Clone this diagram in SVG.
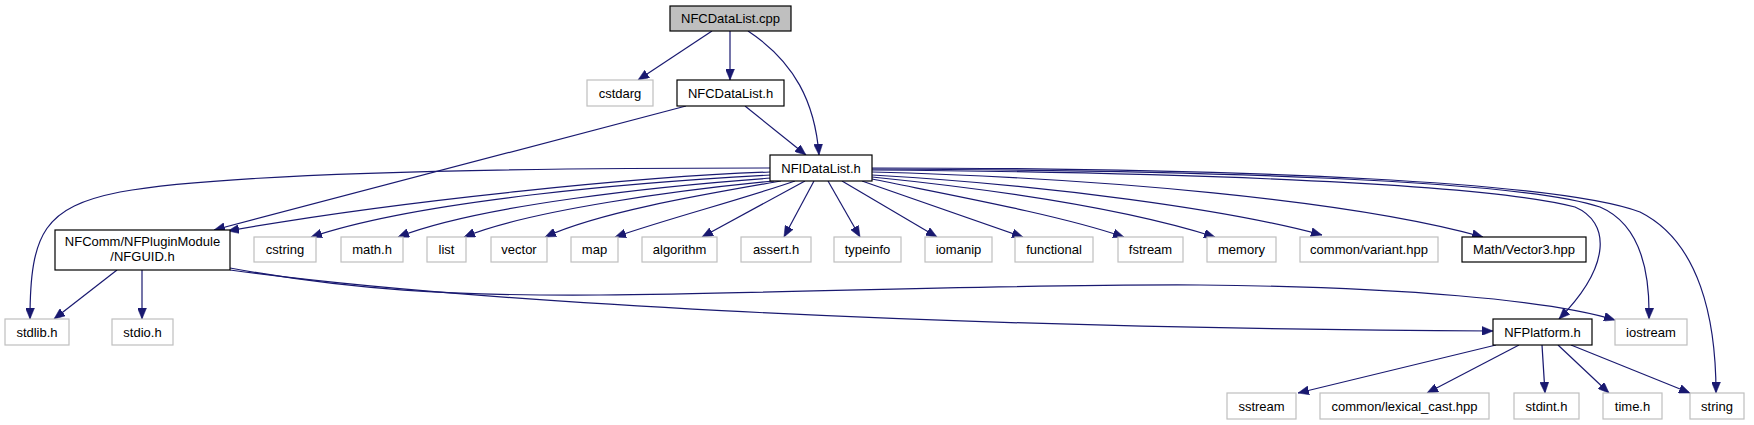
<svg xmlns="http://www.w3.org/2000/svg" width="1754" height="425" viewBox="0 0 1754 425">
<defs>
<style>
.g{fill:#ffffff;stroke:#bfbfbf;stroke-width:1.2}
.b{fill:#ffffff;stroke:#000000;stroke-width:1.2}
.r{fill:#bfbfbf;stroke:#000000;stroke-width:1.2}
text{font-family:"Liberation Sans",Arial,sans-serif;font-size:13px;fill:#000000;text-anchor:middle}
.e path{fill:none;stroke:#191970;stroke-width:1.2;marker-end:url(#arr)}
</style>
<marker id="arr" viewBox="0 0 11 9" refX="11" refY="4.5" markerWidth="11" markerHeight="9" markerUnits="userSpaceOnUse" orient="auto">
<path d="M0,0 L11,4.5 L0,9 z" fill="#191970" stroke="#191970" stroke-width="0.5"/>
</marker>
</defs>
<rect x="0" y="0" width="1754" height="425" fill="#ffffff"/>
<g class="e" id="edges">
<path d="M712,31 L638,80"/>
<path d="M730,31 L730,80"/>
<path d="M748,31 C795,62 815,103 819,155"/>
<path d="M745,106 L806,155"/>
<path d="M686,106 L214,230"/>
<path d="M770,168 C540,168 230,172 120,192 C45,207 30,232 30,319"/>
<path d="M770,172 C650,176 400,200 228,231"/>
<path d="M771,175 C640,182 420,200 311,237"/>
<path d="M772,178 C660,186 480,205 398,237"/>
<path d="M774,181 C680,190 530,210 464,237"/>
<path d="M781,181 C700,195 600,212 545,237"/>
<path d="M795,181 C740,200 670,218 615,237"/>
<path d="M805,181 L702,237"/>
<path d="M814,181 L784,237"/>
<path d="M828,181 L860,237"/>
<path d="M842,181 L937,237"/>
<path d="M862,181 L1023,237"/>
<path d="M872,179 C950,195 1060,215 1124,237"/>
<path d="M872,177 C1000,190 1130,210 1215,237"/>
<path d="M872,175 C1050,185 1230,210 1322,235"/>
<path d="M872,172 C1100,178 1350,200 1483,237"/>
<path d="M872,170 C1150,172 1480,182 1575,207 C1610,222 1612,265 1559,319"/>
<path d="M872,169 C1200,170 1520,180 1600,207 C1640,224 1650,270 1649,319"/>
<path d="M872,168 C1250,168 1560,182 1640,212 C1700,242 1716,320 1716,393"/>
<path d="M117,270 L54,319"/>
<path d="M142,270 L142,319"/>
<path d="M230,270 C450,300 900,328 1493,331"/>
<path d="M230,268 C350,290 450,296 600,295 C800,293 1000,284 1200,285 C1400,287 1550,300 1615,320"/>
<path d="M1496,345 L1298,393"/>
<path d="M1519,345 L1427,393"/>
<path d="M1542,345 L1545,393"/>
<path d="M1558,345 L1609,393"/>
<path d="M1571,345 L1690,393"/>
</g>
<g id="n_cpp"><rect class="r" x="670" y="6" width="121" height="25"/><text x="730.5" y="23">NFCDataList.cpp</text></g>
<g id="n_cstdarg"><rect class="g" x="587" y="80" width="66" height="26"/><text x="620" y="97.5">cstdarg</text></g>
<g id="n_nfcdatalist_h"><rect class="b" x="677" y="80" width="107" height="26"/><text x="730.5" y="97.5">NFCDataList.h</text></g>
<g id="n_nfidatalist_h"><rect class="b" x="770" y="155" width="102" height="26"/><text x="821" y="172.5">NFIDataList.h</text></g>
<g id="n_nfguid"><rect class="b" x="55" y="230" width="175" height="40"/><text x="142.5" y="246">NFComm/NFPluginModule</text><text x="142.5" y="261">/NFGUID.h</text></g>
<g id="n_cstring"><rect class="g" x="254" y="237" width="62" height="25"/><text x="285" y="254">cstring</text></g>
<g id="n_math"><rect class="g" x="341" y="237" width="62" height="25"/><text x="372" y="254">math.h</text></g>
<g id="n_list"><rect class="g" x="427" y="237" width="39" height="25"/><text x="446.5" y="254">list</text></g>
<g id="n_vector"><rect class="g" x="491" y="237" width="56" height="25"/><text x="519" y="254">vector</text></g>
<g id="n_map"><rect class="g" x="571" y="237" width="47" height="25"/><text x="594.5" y="254">map</text></g>
<g id="n_algorithm"><rect class="g" x="642" y="237" width="75" height="25"/><text x="679.5" y="254">algorithm</text></g>
<g id="n_assert"><rect class="g" x="741" y="237" width="70" height="25"/><text x="776" y="254">assert.h</text></g>
<g id="n_typeinfo"><rect class="g" x="834" y="237" width="67" height="25"/><text x="867.5" y="254">typeinfo</text></g>
<g id="n_iomanip"><rect class="g" x="925" y="237" width="67" height="25"/><text x="958.5" y="254">iomanip</text></g>
<g id="n_functional"><rect class="g" x="1015" y="237" width="78" height="25"/><text x="1054" y="254">functional</text></g>
<g id="n_fstream"><rect class="g" x="1118" y="237" width="65" height="25"/><text x="1150.5" y="254">fstream</text></g>
<g id="n_memory"><rect class="g" x="1207" y="237" width="69" height="25"/><text x="1241.5" y="254">memory</text></g>
<g id="n_variant"><rect class="g" x="1300" y="237" width="138" height="25"/><text x="1369" y="254">common/variant.hpp</text></g>
<g id="n_vector3"><rect class="b" x="1462" y="237" width="124" height="25"/><text x="1524" y="254">Math/Vector3.hpp</text></g>
<g id="n_stdlib"><rect class="g" x="5" y="319" width="64" height="26"/><text x="37" y="336.5">stdlib.h</text></g>
<g id="n_stdio"><rect class="g" x="112" y="319" width="61" height="26"/><text x="142.5" y="336.5">stdio.h</text></g>
<g id="n_nfplatform"><rect class="b" x="1493" y="319" width="99" height="26"/><text x="1542.5" y="336.5">NFPlatform.h</text></g>
<g id="n_iostream"><rect class="g" x="1615" y="319" width="72" height="26"/><text x="1651" y="336.5">iostream</text></g>
<g id="n_sstream"><rect class="g" x="1227" y="393" width="69" height="26"/><text x="1261.5" y="410.5">sstream</text></g>
<g id="n_lexical"><rect class="g" x="1320" y="393" width="169" height="26"/><text x="1404.5" y="410.5">common/lexical_cast.hpp</text></g>
<g id="n_stdint"><rect class="g" x="1514" y="393" width="65" height="26"/><text x="1546.5" y="410.5">stdint.h</text></g>
<g id="n_time"><rect class="g" x="1603" y="393" width="59" height="26"/><text x="1632.5" y="410.5">time.h</text></g>
<g id="n_string"><rect class="g" x="1690" y="393" width="54" height="26"/><text x="1717" y="410.5">string</text></g>
</svg>
